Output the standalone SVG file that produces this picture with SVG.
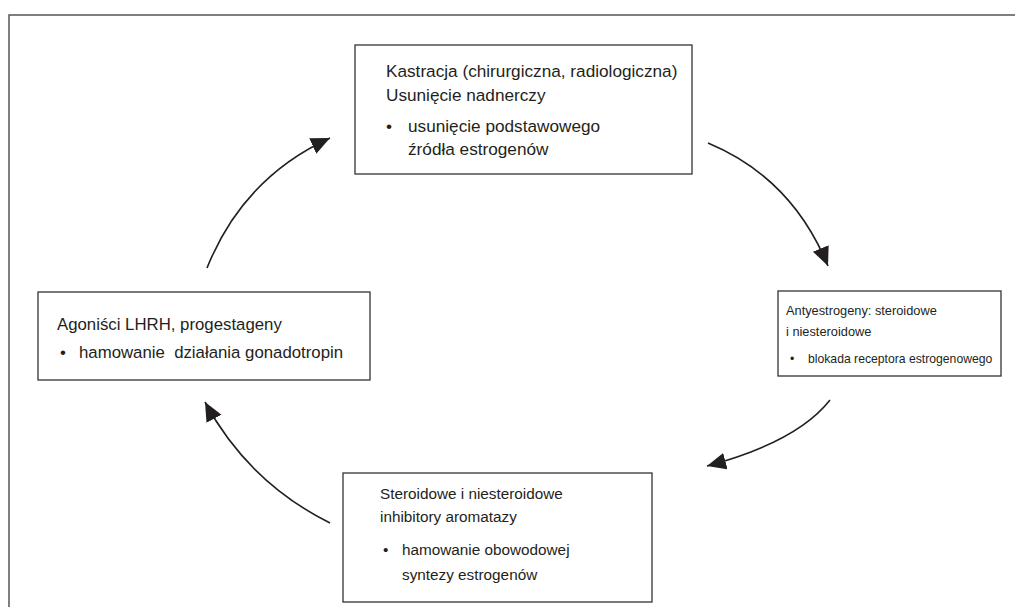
<svg xmlns="http://www.w3.org/2000/svg" width="1015" height="607" viewBox="0 0 1015 607">
<style>
.box{fill:#fff;stroke:#333;stroke-width:1.3}
.t{font-family:"Liberation Sans",Arial,sans-serif;fill:#231f20}
.s1{font-size:17.2px}
.s2{font-size:12.8px}
.s2b{font-size:12.2px}
.s3{font-size:16.8px}
.s4{font-size:15.3px}
.c{fill:none;stroke:#231f20;stroke-width:1.6}
</style>
<defs>
<marker id="ah" markerUnits="userSpaceOnUse" markerWidth="20" markerHeight="18" refX="19" refY="8.5" orient="auto">
<path d="M0,0 L19,8.5 L0,17 Z" fill="#231f20"/>
</marker>
</defs>
<rect width="1015" height="607" fill="#fff"/>
<polyline points="9,607 9,15 1015,15" fill="none" stroke="#555" stroke-width="1.5"/>
<g id="connectors">
<path class="c" d="M207,268 Q243,178 330,138" marker-end="url(#ah)"/>
<path class="c" d="M708,143 Q792,178 828,266" marker-end="url(#ah)"/>
<path class="c" d="M830,400 Q797,442 707,466" marker-end="url(#ah)"/>
<path class="c" d="M330,523 Q248,482 205,402" marker-end="url(#ah)"/>
</g>
<g id="node-top">
<rect class="box" x="355" y="45" width="337" height="129"/>
<text class="t s1" x="386" y="77">Kastracja (chirurgiczna, radiologiczna)</text>
<text class="t s1" x="386" y="101">Usunięcie nadnerczy</text>
<text class="t s1" x="386" y="132">•</text>
<text class="t s1" x="408" y="132">usunięcie podstawowego</text>
<text class="t s1" x="408" y="155">źródła estrogenów</text>
</g>
<g id="node-right">
<rect class="box" x="778" y="291" width="223" height="85"/>
<text class="t s2" x="786" y="315">Antyestrogeny: steroidowe</text>
<text class="t s2" x="786" y="336">i niesteroidowe</text>
<text class="t s2b" x="790" y="363">•</text>
<text class="t s2b" x="808" y="363">blokada receptora estrogenowego</text>
</g>
<g id="node-left">
<rect class="box" x="38" y="292" width="332" height="88"/>
<text class="t s3" x="57" y="330">Agoniści LHRH, progestageny</text>
<text class="t s3" x="60" y="358">•</text>
<text class="t s3" x="79" y="358" xml:space="preserve">hamowanie  działania gonadotropin</text>
</g>
<g id="node-bottom">
<rect class="box" x="343" y="473" width="309" height="129"/>
<text class="t s4" x="380" y="499">Steroidowe i niesteroidowe</text>
<text class="t s4" x="380" y="522">inhibitory aromatazy</text>
<text class="t s4" x="383" y="555">•</text>
<text class="t s4" x="402" y="555">hamowanie obowodowej</text>
<text class="t s4" x="402" y="580">syntezy estrogenów</text>
</g>
</svg>
